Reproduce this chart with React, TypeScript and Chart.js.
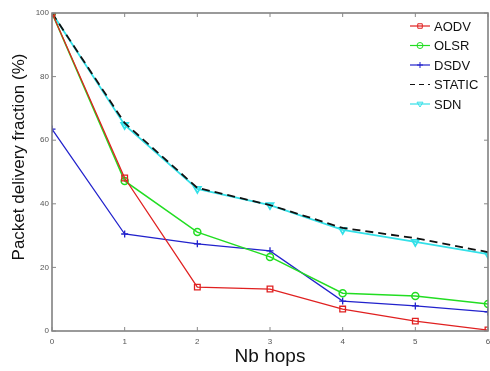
import React, { useEffect, useRef } from "react";
import { Chart, registerables } from "chart.js";

Chart.register(...registerables);

const hops = [0, 1, 2, 3, 4, 5, 6];
const aodv = [100, 48.1, 13.8, 13.2, 6.9, 3.1, 0.3];
const olsr = [100, 47.2, 31.1, 23.3, 11.9, 11.0, 8.5];
const dsdv = [63.5, 30.5, 27.4, 25.2, 9.4, 7.9, 6.0];
const staticS = [100, 65.4, 45.0, 39.6, 32.4, 29.2, 24.8];
const sdn = [100, 64.8, 44.7, 39.6, 31.8, 28.0, 24.2];
const xTicks = [0, 1, 2, 3, 4, 5, 6];
const yTicks = [0, 20, 40, 60, 80, 100];
const yTitle = "Packet delivery fraction (%)";

const FONT = "'Liberation Sans', Arial, sans-serif";

const toPts = (vals: number[]) => vals.map((v, i) => ({ x: hops[i], y: v }));

function drawMarker(ctx: CanvasRenderingContext2D, style: string, x: number, y: number, r: number, color: string) {
  ctx.save();
  ctx.strokeStyle = color;
  ctx.lineWidth = 1;
  ctx.beginPath();
  if (style === "rect") {
    ctx.rect(x - r * 0.75, y - r * 0.75, r * 1.5, r * 1.5);
  } else if (style === "circle") {
    ctx.arc(x, y, r, 0, Math.PI * 2);
  } else if (style === "cross") {
    ctx.moveTo(x - r, y);
    ctx.lineTo(x + r, y);
    ctx.moveTo(x, y - r);
    ctx.lineTo(x, y + r);
  } else if (style === "triangle") {
    ctx.moveTo(x - r, y - r * 0.6);
    ctx.lineTo(x + r, y - r * 0.6);
    ctx.lineTo(x, y + r);
    ctx.closePath();
  }
  ctx.stroke();
  ctx.restore();
}

const boxPlugin = {
  id: "boxPlugin",
  afterLayout(chart: any) {
    const target = chart.width - 2;
    const xs = chart.scales.x;
    xs.right = target;
    xs.width = xs.right - xs.left;
    xs.configure();
    chart.chartArea.right = target;
    chart.chartArea.width = target - chart.chartArea.left;
  },
  afterDatasetsDraw(chart: any) {
    const { ctx, chartArea, scales } = chart;
    const { left, right, top, bottom } = chartArea;
    ctx.save();
    ctx.strokeStyle = "#7a7a7a";
    ctx.lineWidth = 1.5;
    ctx.beginPath();
    ctx.moveTo(left, top);
    ctx.lineTo(right, top);
    ctx.lineTo(right, bottom);
    ctx.lineTo(left, bottom);
    ctx.closePath();
    ctx.stroke();
    ctx.lineWidth = 1;
    ctx.strokeStyle = "#888";
    const tl = 4;
    xTicks.forEach((t) => {
      const x = scales.x.getPixelForValue(t);
      ctx.beginPath();
      ctx.moveTo(x, bottom);
      ctx.lineTo(x, bottom - tl);
      ctx.moveTo(x, top);
      ctx.lineTo(x, top + tl);
      ctx.stroke();
    });
    yTicks.forEach((t) => {
      const y = scales.y.getPixelForValue(t);
      ctx.beginPath();
      ctx.moveTo(left, y);
      ctx.lineTo(left + tl, y);
      ctx.moveTo(right, y);
      ctx.lineTo(right - tl, y);
      ctx.stroke();
    });
    ctx.restore();
  },
  afterDraw(chart: any) {
    const { ctx } = chart;
    ctx.save();
    ctx.translate(19, 157);
    ctx.rotate(-Math.PI / 2);
    ctx.fillStyle = "#111";
    ctx.font = "17px " + FONT;
    ctx.textAlign = "center";
    ctx.textBaseline = "middle";
    ctx.fillText(yTitle, 0, 0);
    ctx.restore();

    ctx.save();
    const x0 = 410;
    const x1 = 430;
    const startY = 26;
    const gap = 19.5;
    chart.data.datasets.forEach((ds: any, i: number) => {
      const y = startY + i * gap;
      ctx.strokeStyle = ds.borderColor;
      ctx.lineWidth = 1.2;
      ctx.setLineDash(ds.borderDash ? [5, 4] : []);
      ctx.beginPath();
      ctx.moveTo(x0, y);
      ctx.lineTo(x1, y);
      ctx.stroke();
      ctx.setLineDash([]);
      if (ds.pointRadius > 0) {
        drawMarker(ctx, ds.pointStyle, (x0 + x1) / 2, y, 3, ds.borderColor);
      }
      ctx.fillStyle = "#111";
      ctx.font = "13px " + FONT;
      ctx.textBaseline = "middle";
      ctx.textAlign = "left";
      ctx.fillText(ds.label, 434, y + 1);
    });
    ctx.restore();
  },
};

export default function App() {
  const ref = useRef<HTMLCanvasElement>(null);
  useEffect(() => {
    document.body.style.margin = "0";
    const chart = new Chart(ref.current as HTMLCanvasElement, {
      type: "line",
      data: {
        datasets: [
          {
            label: "AODV",
            data: toPts(aodv),
            borderColor: "#e02020",
            backgroundColor: "transparent",
            pointStyle: "rect",
            pointRadius: 4,
            pointBorderColor: "#e02020",
            pointBackgroundColor: "rgba(0,0,0,0)",
            borderWidth: 1.3,
          },
          {
            label: "OLSR",
            data: toPts(olsr),
            borderColor: "#22dd22",
            backgroundColor: "transparent",
            pointStyle: "circle",
            pointRadius: 3.5,
            pointBorderColor: "#22dd22",
            pointBackgroundColor: "rgba(0,0,0,0)",
            borderWidth: 1.5,
          },
          {
            label: "DSDV",
            data: toPts(dsdv),
            borderColor: "#2222cc",
            backgroundColor: "transparent",
            pointStyle: "cross",
            pointRadius: 3.5,
            pointBorderColor: "#2222cc",
            borderWidth: 1.3,
          },
          {
            label: "STATIC",
            data: toPts(staticS),
            borderColor: "#111111",
            backgroundColor: "transparent",
            borderDash: [8, 5],
            pointRadius: 0,
            borderWidth: 1.8,
          },
          {
            label: "SDN",
            data: toPts(sdn),
            borderColor: "#33e0e8",
            backgroundColor: "transparent",
            pointStyle: "triangle",
            rotation: 180,
            pointRadius: 4,
            pointBorderColor: "#33e0e8",
            pointBackgroundColor: "rgba(0,0,0,0)",
            borderWidth: 1.8,
          },
        ],
      },
      options: {
        animation: false,
        responsive: false,
        layout: { padding: { top: 13, right: 2, left: 0, bottom: 0 } },
        plugins: { legend: { display: false }, tooltip: { enabled: false } },
        scales: {
          x: {
            type: "linear",
            min: 0,
            max: 6,
            grid: { display: false, drawTicks: false },
            border: { display: false },
            afterFit: (s: any) => {
              s.height = 40;
            },
            afterBuildTicks: (s: any) => {
              s.ticks = xTicks.map((v) => ({ value: v }));
            },
            ticks: {
              color: "#555",
              font: { size: 8, family: FONT },
              padding: 6,
              maxRotation: 0,
            },
            title: {
              display: true,
              text: "Nb hops",
              color: "#111",
              font: { size: 19, family: FONT },
              padding: { top: 2, bottom: 3 },
            },
          },
          y: {
            min: 0,
            max: 100,
            grid: { display: false, drawTicks: false },
            border: { display: false },
            afterFit: (s: any) => {
              s.width = 52;
            },
            afterBuildTicks: (s: any) => {
              s.ticks = yTicks.map((v) => ({ value: v }));
            },
            ticks: {
              color: "#555",
              font: { size: 8, family: FONT },
              padding: 3,
            },
            title: { display: false },
          },
        },
      },
      plugins: [boxPlugin],
    } as any);
    return () => chart.destroy();
  }, []);
  return (
    <canvas
      ref={ref}
      width={490}
      height={371}
      style={{ position: "fixed", left: 0, top: 0, width: 490, height: 371 }}
    />
  );
}
